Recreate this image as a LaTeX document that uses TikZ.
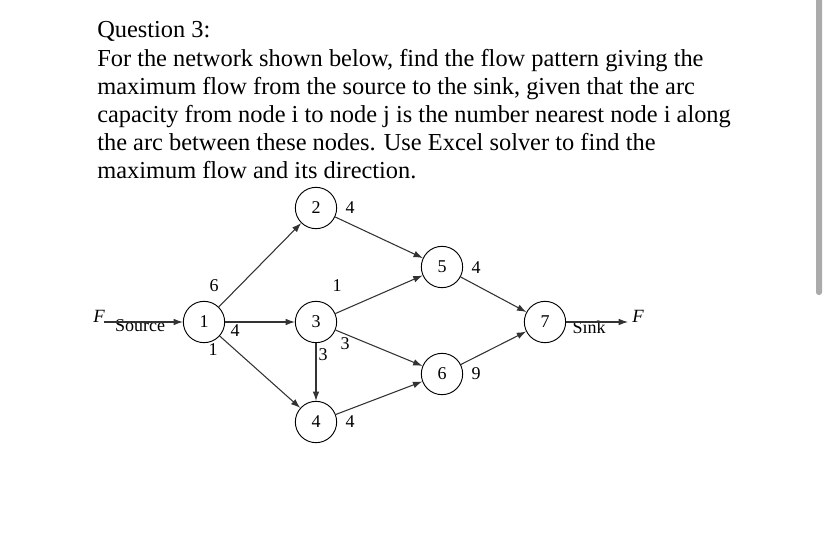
\documentclass[tikz,border=0pt]{standalone}
\usepackage{fontspec}
\setmainfont{Liberation Serif}
\usetikzlibrary{arrows.meta}
\begin{document}
\begin{tikzpicture}[x=0.75pt,y=-0.75pt,
  nd/.style={circle,draw,line width=0.7pt,minimum size=31pt,inner sep=0pt,font=\fontsize{13.5}{15}\selectfont},
  arc/.style={-{Latex[length=7pt,width=5pt]},line width=0.8pt,draw=black!80},
  lab/.style={font=\fontsize{13.5}{15}\selectfont,inner sep=1pt},
  txt/.style={anchor=base west,inner sep=0pt,font=\fontsize{18.3}{21}\selectfont}]
\useasboundingbox (0,0) rectangle (828,532);
\fill[white] (0,0) rectangle (828,532);
\fill[black!33,rounded corners=2pt] (816,-5) rectangle (822,295);
\node[txt] (t1) at (97,37) {Question 3:};
\node[txt] (t2) at (97,66) {For the network shown below, find the flow pattern giving the};
\node[txt] (t3) at (97,94) {maximum flow from the source to the sink, given that the arc};
\node[txt] (t4) at (97,122) {capacity from node i to node j is the number nearest node i along};
\node[txt] (t5) at (97,150) {the arc between these nodes. Use Excel solver to find the};
\node[txt] (t6) at (97,178) {maximum flow and its direction.};
\node[nd] (n1) at (204,322) {1};
\node[nd] (n2) at (316,208) {2};
\node[nd] (n3) at (316,322) {3};
\node[nd] (n4) at (316,422) {4};
\node[nd] (n5) at (442,267) {5};
\node[nd] (n6) at (442,374) {6};
\node[nd] (n7) at (545,322) {7};
\node[lab,font=\fontsize{14}{15}\selectfont\itshape] (fl) at (99,316) {F};
\node[lab,font=\fontsize{14}{15}\selectfont\itshape] (fr) at (638,316) {F};
\coordinate (fla) at (104,322);
\coordinate (fra) at (628,322);
\node[lab] at (140,326) {Source};
\node[lab] at (589,327) {Sink};
\draw[arc] (fla) -- (n1);
\draw[arc] (n7) -- (fra);
\draw[arc] (n1) -- (n2);
\draw[arc] (n1) -- (n3);
\draw[arc] (n1) -- (n4);
\draw[arc] (n2) -- (n5);
\draw[arc] (n3) -- (n5);
\draw[arc] (n3) -- (n6);
\draw[arc] (n3) -- (n4);
\draw[arc] (n4) -- (n6);
\draw[arc] (n5) -- (n7);
\draw[arc] (n6) -- (n7);
\node[lab] at (214,286) {6};
\node[lab] at (235,331) {4};
\node[lab] at (213,350) {1};
\node[lab] at (350,208) {4};
\node[lab] at (337,286) {1};
\node[lab] at (323,355) {3};
\node[lab] at (345,344) {3};
\node[lab] at (476,268) {4};
\node[lab] at (476,374) {9};
\node[lab] at (350,422) {4};
\end{tikzpicture}
\end{document}
